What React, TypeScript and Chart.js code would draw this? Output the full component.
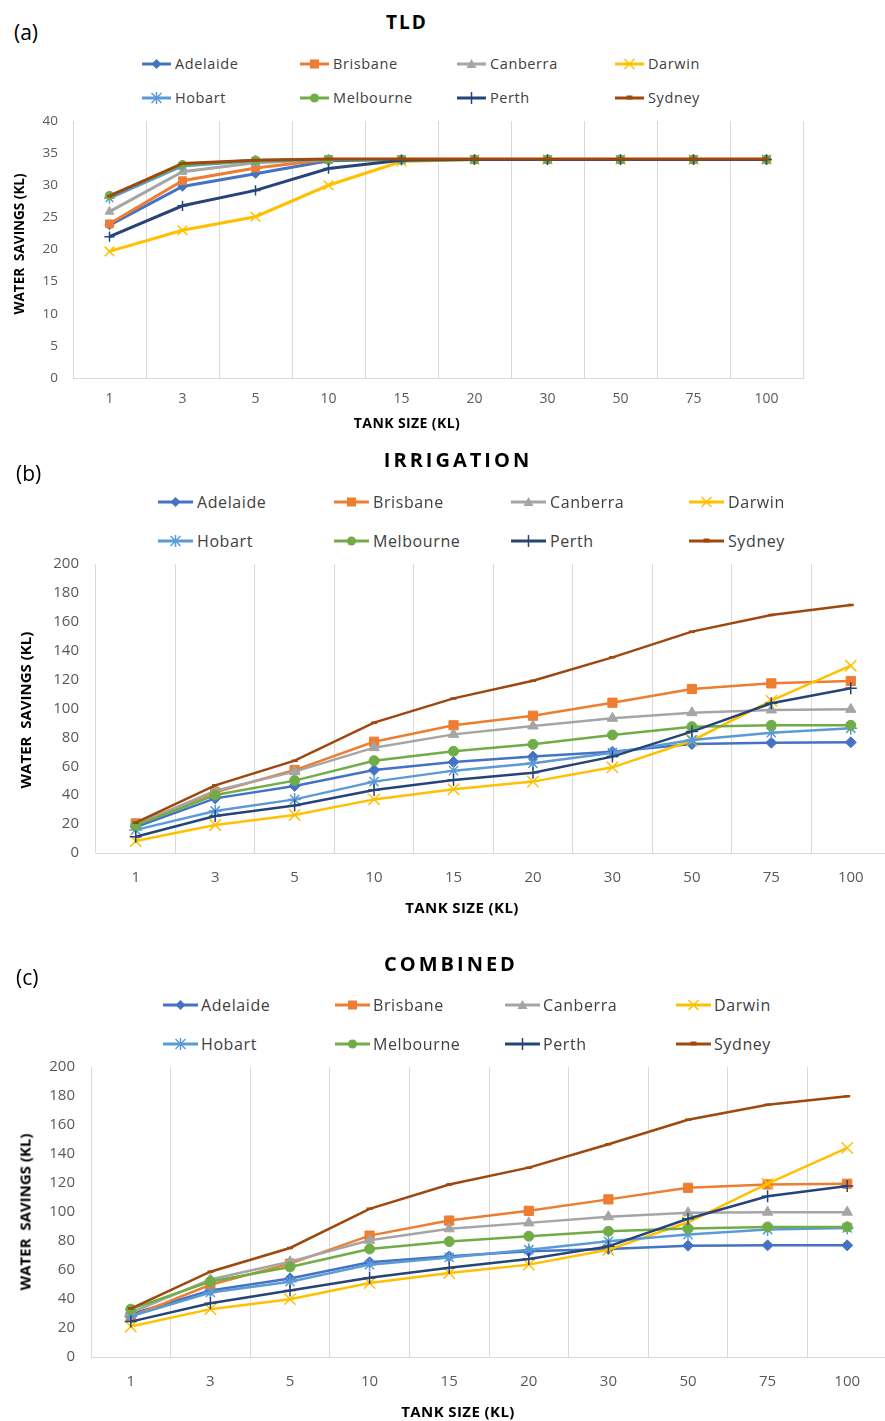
import React, { useEffect, useRef } from 'react';
import { Chart, registerables } from 'chart.js';

Chart.register(...registerables);

// ---------- data ----------
const TANK_SIZES = ['1', '3', '5', '10', '15', '20', '30', '50', '75', '100'];
const CITIES = ['Adelaide', 'Brisbane', 'Canberra', 'Darwin', 'Hobart', 'Melbourne', 'Perth', 'Sydney'];
const CITY_COLORS = ['#4472C4', '#ED7D31', '#A5A5A5', '#FFC000', '#5B9BD5', '#70AD47', '#264478', '#9E480E'];
const CITY_MARKERS = ['rectRot', 'rect', 'triangle', 'crossRot', 'star', 'circle', 'cross', 'line'];

const TLD_Y_MAX = 40;
const TLD_Y_STEP = 5;
const TLD_ADELAIDE = [23.8, 29.8, 31.8, 33.8, 34, 34, 34, 34, 34, 34];
const TLD_BRISBANE = [24.0, 30.7, 32.7, 34, 34, 34, 34, 34, 34, 34];
const TLD_CANBERRA = [25.9, 32.1, 33.5, 34, 34, 34, 34, 34, 34, 34];
const TLD_DARWIN = [19.7, 23.0, 25.1, 30.0, 33.7, 34, 34, 34, 34, 34];
const TLD_HOBART = [28.0, 33.0, 33.8, 34, 34, 34, 34, 34, 34, 34];
const TLD_MELBOURNE = [28.4, 33.2, 33.9, 34, 34, 34, 34, 34, 34, 34];
const TLD_PERTH = [22.0, 26.8, 29.2, 32.6, 33.9, 34, 34, 34, 34, 34];
const TLD_SYDNEY = [28.3, 33.4, 33.9, 34.1, 34.1, 34.1, 34.1, 34.1, 34.1, 34.1];

const IRR_Y_MAX = 200;
const IRR_Y_STEP = 20;
const IRR_ADELAIDE = [18.0, 37.8, 46.4, 57.4, 63.0, 66.7, 70.1, 75.4, 76.3, 76.6];
const IRR_BRISBANE = [20.5, 42.0, 57.4, 77.0, 88.4, 95.0, 104.0, 113.5, 117.4, 119.0];
const IRR_CANBERRA = [19.5, 43.1, 56.3, 72.9, 82.1, 87.9, 93.2, 97.1, 99.0, 99.4];
const IRR_DARWIN = [8.3, 19.4, 26.3, 37.1, 44.1, 49.4, 59.3, 77.7, 105.4, 129.6];
const IRR_HOBART = [16.0, 29.1, 37.1, 49.4, 57.0, 62.1, 69.4, 78.2, 83.3, 86.3];
const IRR_MELBOURNE = [19.1, 40.1, 50.1, 63.9, 70.4, 75.2, 81.7, 87.4, 88.4, 88.4];
const IRR_PERTH = [11.3, 25.6, 32.9, 43.6, 50.5, 55.6, 66.7, 84.0, 103.6, 114.0];
const IRR_SYDNEY = [21.0, 46.8, 63.9, 90.2, 107.0, 119.2, 135.4, 153.2, 164.7, 171.6];

const COMB_Y_MAX = 200;
const COMB_Y_STEP = 20;
const COMB_ADELAIDE = [29.5, 45.9, 54.2, 65.3, 69.4, 72.9, 74.5, 76.8, 77.0, 77.0];
const COMB_BRISBANE = [27.9, 49.8, 64.4, 83.7, 94.1, 100.8, 108.7, 116.7, 119.0, 119.5];
const COMB_CANBERRA = [30.5, 53.5, 65.7, 80.5, 88.4, 92.5, 96.7, 99.4, 99.9, 99.9];
const COMB_DARWIN = [21.0, 33.0, 39.9, 51.0, 57.9, 63.7, 74.0, 92.9, 119.5, 144.2];
const COMB_HOBART = [28.0, 44.5, 51.9, 63.7, 68.7, 74.0, 79.8, 84.4, 87.9, 89.0];
const COMB_MELBOURNE = [33.0, 52.1, 62.1, 74.5, 79.6, 83.3, 86.7, 88.6, 89.7, 89.7];
const COMB_PERTH = [24.4, 37.1, 45.9, 54.7, 61.6, 67.6, 76.3, 95.3, 110.9, 117.9];
const COMB_SYDNEY = [33.4, 58.8, 75.2, 102.2, 119.0, 130.6, 146.7, 163.6, 173.9, 179.9];

const TLD_SERIES = [TLD_ADELAIDE, TLD_BRISBANE, TLD_CANBERRA, TLD_DARWIN, TLD_HOBART, TLD_MELBOURNE, TLD_PERTH, TLD_SYDNEY];
const IRR_SERIES = [IRR_ADELAIDE, IRR_BRISBANE, IRR_CANBERRA, IRR_DARWIN, IRR_HOBART, IRR_MELBOURNE, IRR_PERTH, IRR_SYDNEY];
const COMB_SERIES = [COMB_ADELAIDE, COMB_BRISBANE, COMB_CANBERRA, COMB_DARWIN, COMB_HOBART, COMB_MELBOURNE, COMB_PERTH, COMB_SYDNEY];

const Y_TITLE = 'WATER  SAVINGS (KL)';
const X_TITLE = 'TANK SIZE (KL)';

// ---------- layout ----------
const FONT = '"Open Sans", "Noto Sans", sans-serif';
const TEXT_COLOR = '#000000';
const TICK_COLOR = '#595959';
const GRID_COLOR = '#d9d9d9';

type Panel = {
  tag: string;
  title: string;
  tagPos: [number, number];
  titlePos: [number, number];
  titleSize: number;
  titleSpacing: number;
  legendCols: number[];
  legendRows: number[];
  legendTextOffset: number;
  legendSize: number;
  legendLine: number;
  yTitlePos: [number, number];
  yTitleSize: number;
  xTitlePos: [number, number];
  xTitleSize: number;
  plotLeft: number;
  plotRight: number;
  plotTop: number;
  plotBottom: number;
  canvasWidth: number;
  xAxisHeight: number;
  yTickSize: number;
  xTickSize: number;
  yTickPad: number;
  xTickPad: number;
  lineWidth: number;
  markerScale: number;
  yMax: number;
  yStep: number;
  series: number[][];
};

const PANELS: Panel[] = [
  {
    tag: '(a)', title: 'TLD', tagPos: [14, 32], titlePos: [407, 22], titleSize: 19, titleSpacing: 2,
    legendCols: [142, 300, 457, 615], legendRows: [64, 98], legendTextOffset: 33, legendSize: 14.5, legendLine: 29,
    yTitlePos: [20, 244], yTitleSize: 13.5, xTitlePos: [407, 423], xTitleSize: 14,
    plotLeft: 73, plotRight: 803, plotTop: 121, plotBottom: 378, canvasWidth: 823, xAxisHeight: 40,
    yTickSize: 13.5, xTickSize: 14, yTickPad: 15, xTickPad: 13, lineWidth: 3, markerScale: 0.85,
    yMax: TLD_Y_MAX, yStep: TLD_Y_STEP, series: TLD_SERIES,
  },
  {
    tag: '(b)', title: 'IRRIGATION', tagPos: [16, 473], titlePos: [458, 460], titleSize: 20, titleSpacing: 3,
    legendCols: [158, 334, 511, 689], legendRows: [502, 541], legendTextOffset: 39, legendSize: 16, legendLine: 35,
    yTitlePos: [25, 710], yTitleSize: 15, xTitlePos: [462, 907], xTitleSize: 15,
    plotLeft: 96, plotRight: 896, plotTop: 564, plotBottom: 853, canvasWidth: 900, xAxisHeight: 45,
    yTickSize: 15, xTickSize: 15, yTickPad: 17, xTickPad: 16, lineWidth: 2.5, markerScale: 1,
    yMax: IRR_Y_MAX, yStep: IRR_Y_STEP, series: IRR_SERIES,
  },
  {
    tag: '(c)', title: 'COMBINED', tagPos: [16, 977], titlePos: [451, 964], titleSize: 20, titleSpacing: 3,
    legendCols: [163, 335, 505, 676], legendRows: [1005, 1044], legendTextOffset: 38, legendSize: 16, legendLine: 35,
    yTitlePos: [25, 1212], yTitleSize: 15, xTitlePos: [458, 1411], xTitleSize: 15,
    plotLeft: 91, plotRight: 887, plotTop: 1067, plotBottom: 1357, canvasWidth: 900, xAxisHeight: 45,
    yTickSize: 15, xTickSize: 15, yTickPad: 16, xTickPad: 16, lineWidth: 2.5, markerScale: 1,
    yMax: COMB_Y_MAX, yStep: COMB_Y_STEP, series: COMB_SERIES,
  },
];

const MARKER_RADIUS: Record<string, number> = {
  rectRot: 5.5, rect: 6.5, triangle: 6, crossRot: 8, star: 6.5, circle: 5, cross: 6, line: 3,
};

function ChartCanvas({ p }: { p: Panel }) {
  const ref = useRef<HTMLCanvasElement | null>(null);
  const padTop = 12;
  const canvasTop = p.plotTop - padTop;
  const height = p.plotBottom - canvasTop + p.xAxisHeight;

  useEffect(() => {
    if (!ref.current) return;
    const datasets = CITIES.map((city, i) => {
      const style = CITY_MARKERS[i];
      const open = style === 'crossRot' || style === 'star' || style === 'cross' || style === 'line';
      return {
        label: city,
        data: p.series[i],
        borderColor: CITY_COLORS[i],
        backgroundColor: CITY_COLORS[i],
        borderWidth: p.lineWidth,
        pointStyle: style as any,
        pointRadius: MARKER_RADIUS[style] * p.markerScale,
        pointBorderWidth: open ? (style === 'line' ? 2.5 : 1.5) : 1,
        pointBorderColor: CITY_COLORS[i],
        pointBackgroundColor: CITY_COLORS[i],
        tension: 0,
        fill: false,
        order: CITIES.length - 1 - i,
      };
    });
    const chart = new Chart(ref.current, {
      type: 'line',
      data: { labels: TANK_SIZES, datasets },
      options: {
        responsive: false,
        animation: false,
        devicePixelRatio: 1,
        layout: { padding: { top: padTop, right: p.canvasWidth - p.plotRight, left: 0, bottom: 0 } },
        plugins: { legend: { display: false }, title: { display: false }, tooltip: { enabled: false } },
        scales: {
          x: {
            offset: true,
            grid: { offset: true, color: GRID_COLOR, lineWidth: 1, drawTicks: false },
            border: { color: GRID_COLOR, width: 1 },
            ticks: {
              color: TICK_COLOR, font: { family: FONT, size: p.xTickSize }, padding: p.xTickPad,
              autoSkip: false, maxRotation: 0,
            },
            afterFit: (s: any) => { s.height = p.xAxisHeight; s.paddingLeft = 0; s.paddingRight = 0; },
          },
          y: {
            min: 0, max: p.yMax,
            grid: { display: false, drawTicks: false },
            border: { display: false },
            ticks: { stepSize: p.yStep, color: TICK_COLOR, font: { family: FONT, size: p.yTickSize }, padding: p.yTickPad },
            afterFit: (s: any) => { s.width = p.plotLeft; s.paddingTop = 0; s.paddingBottom = 0; },
          },
        },
      },
    } as any);
    return () => chart.destroy();
  }, []);

  return (
    <canvas
      ref={ref}
      width={p.canvasWidth}
      height={height}
      style={{ position: 'absolute', left: 0, top: canvasTop, width: p.canvasWidth, height }}
    />
  );
}

function LegendIcon({ idx, w }: { idx: number; w: number }) {
  const c = CITY_COLORS[idx];
  const s = CITY_MARKERS[idx];
  const h = 14;
  const cx = w / 2;
  const cy = h / 2;
  let m: React.ReactNode = null;
  if (s === 'rectRot') m = <polygon points={`${cx},${cy - 5} ${cx + 5},${cy} ${cx},${cy + 5} ${cx - 5},${cy}`} fill={c} />;
  else if (s === 'rect') m = <rect x={cx - 4.5} y={cy - 4.5} width={9} height={9} fill={c} />;
  else if (s === 'triangle') m = <polygon points={`${cx},${cy - 5} ${cx + 5},${cy + 4} ${cx - 5},${cy + 4}`} fill={c} />;
  else if (s === 'crossRot') m = <g stroke={c} strokeWidth={1.5}><line x1={cx - 5} y1={cy - 5} x2={cx + 5} y2={cy + 5} /><line x1={cx + 5} y1={cy - 5} x2={cx - 5} y2={cy + 5} /></g>;
  else if (s === 'star') m = <g stroke={c} strokeWidth={1.5}><line x1={cx - 5} y1={cy - 5} x2={cx + 5} y2={cy + 5} /><line x1={cx + 5} y1={cy - 5} x2={cx - 5} y2={cy + 5} /><line x1={cx} y1={cy - 6} x2={cx} y2={cy + 6} /></g>;
  else if (s === 'circle') m = <circle cx={cx} cy={cy} r={4.5} fill={c} />;
  else if (s === 'cross') m = <g stroke={c} strokeWidth={1.5}><line x1={cx} y1={cy - 6} x2={cx} y2={cy + 6} /></g>;
  else if (s === 'line') m = <rect x={cx - 3} y={cy - 2.5} width={6} height={4} fill={c} />;
  return (
    <svg width={w} height={h} style={{ display: 'block' }}>
      <line x1={0} y1={cy} x2={w} y2={cy} stroke={c} strokeWidth={3} />
      {m}
    </svg>
  );
}

function PanelView({ p }: { p: Panel }) {
  const abs = (x: number, y: number, extra: React.CSSProperties = {}): React.CSSProperties => ({
    position: 'absolute', left: x, top: y, lineHeight: 1, whiteSpace: 'pre', fontFamily: FONT, color: TEXT_COLOR, ...extra,
  });
  return (
    <>
      <ChartCanvas p={p} />
      <div style={abs(p.tagPos[0], p.tagPos[1], { transform: 'translateY(-50%)', fontSize: 21 })}>{p.tag}</div>
      <div style={abs(p.titlePos[0], p.titlePos[1], { transform: 'translate(-50%,-50%)', fontSize: p.titleSize, fontWeight: 700, letterSpacing: p.titleSpacing })}>{p.title}</div>
      {CITIES.map((city, i) => {
        const col = i % 4;
        const row = Math.floor(i / 4);
        const x = p.legendCols[col];
        const y = p.legendRows[row];
        return (
          <div key={city}>
            <div style={{ position: 'absolute', left: x, top: y - 7 }}>
              <LegendIcon idx={i} w={p.legendLine} />
            </div>
            <div style={abs(x + p.legendTextOffset, y, { transform: 'translateY(-50%)', fontSize: p.legendSize, letterSpacing: 0.6, color: '#404040' })}>{city}</div>
          </div>
        );
      })}
      <div style={abs(p.yTitlePos[0], p.yTitlePos[1], { transform: 'translate(-50%,-50%) rotate(-90deg)', fontSize: p.yTitleSize, fontWeight: 700 })}>{Y_TITLE}</div>
      <div style={abs(p.xTitlePos[0], p.xTitlePos[1], { transform: 'translate(-50%,-50%)', fontSize: p.xTitleSize, fontWeight: 700, letterSpacing: 0.4 })}>{X_TITLE}</div>
    </>
  );
}

export default function App() {
  return (
    <div style={{ position: 'absolute', left: 0, top: 0, width: 885, height: 1421, overflow: 'hidden', background: '#ffffff' }}>
      {PANELS.map((p) => <PanelView key={p.tag} p={p} />)}
    </div>
  );
}
